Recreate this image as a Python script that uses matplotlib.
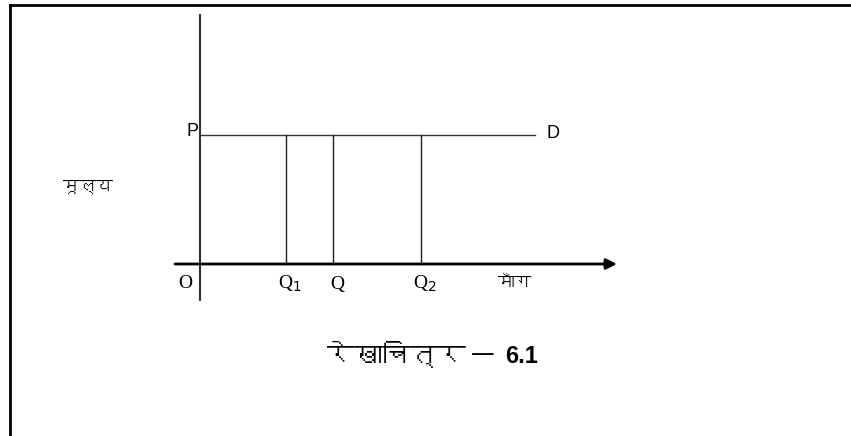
import matplotlib
matplotlib.use("Agg")
import matplotlib.pyplot as plt
from matplotlib import font_manager
from matplotlib.ft2font import FT2Font
from matplotlib.lines import Line2D

# demand diagram: perfectly elastic demand at price P
price_p = 12.9
q_labels = ["Q$_1$", "Q", "Q$_2$"]
q_values = [8.6, 13.3, 22.1]
demand_end = 33.5
x_axis = (-2.5, 41.7)
y_axis = (-3.6, 24.9)
x_label = "माँग"
y_label = "मूल्य"
caption = "रेखाचित्र"
caption_num = "6.1"


def find_deva_font():
    for f in font_manager.fontManager.ttflist:
        try:
            cmap = FT2Font(f.fname).get_charmap()
        except Exception:
            continue
        if 0x0915 in cmap:
            return f.name
    return None


deva = find_deva_font()
deva_family = [deva, "DejaVu Sans"] if deva else ["DejaVu Sans"]

fig = plt.figure(figsize=(8.51, 4.36), dpi=100)
ax = fig.add_axes([0, 0, 1, 1])
ax.set_xlim(-20, 65.1)
ax.set_ylim(-17.2, 26.4)
ax.axis("off")

# frame around the figure (top and left edges only)
fig.add_artist(Line2D([10 / 851, 10 / 851], [0, 1 - 5 / 436], color="black", lw=2))
fig.add_artist(Line2D([10 / 851, 1], [1 - 5 / 436, 1 - 5 / 436], color="black", lw=2))

# axes
ax.plot([0, 0], y_axis, color="#333333", lw=1.5)
ax.annotate("", xy=(x_axis[1], 0), xytext=(x_axis[0], 0),
            arrowprops=dict(arrowstyle="-|>", color="black", lw=2,
                            mutation_scale=16, shrinkA=0, shrinkB=0))

# demand line and quantity verticals
ax.plot([0, demand_end], [price_p, price_p], color="#333333", lw=1)
for q in q_values:
    ax.plot([q, q], [0, price_p], color="#222222", lw=1)

ax.text(-0.2, price_p + 0.4, "P", ha="right", va="center", fontsize=13,
        family="Liberation Sans")
ax.text(demand_end + 1.1, price_p + 0.1, "D", ha="left", va="center",
        fontsize=13, family="Liberation Sans")
ax.text(-1.5, -1.9, "O", ha="center", va="center", fontsize=14,
        family="Liberation Serif")
for lbl, q in zip(q_labels, q_values):
    ax.text(q + 0.4, -2.0, lbl, ha="center", va="center", fontsize=14,
            family="Liberation Serif")
ax.text(31.5, -1.9, x_label, ha="center", va="center", fontsize=12,
        family=deva_family)
ax.text(-11.2, 7.7, y_label, ha="center", va="center", fontsize=12,
        family=deva_family)

# figure caption
ax.text(26.6, -9.0, caption, ha="right", va="center", fontsize=20,
        family=deva_family)
ax.text(28.3, -9.0, "—", ha="center", va="center", fontsize=17,
        family="DejaVu Sans")
ax.text(30.5, -9.2, caption_num, ha="left", va="center", fontsize=17,
        family="Liberation Sans", fontweight="bold")

fig.savefig("out.png", dpi=100)
